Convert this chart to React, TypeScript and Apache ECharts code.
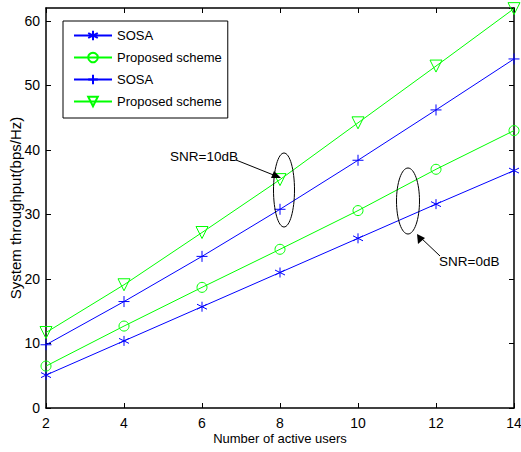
import React, { useEffect, useRef } from "react";
import * as echarts from "echarts";

const users = [2, 4, 6, 8, 10, 12, 14];
const sosa0dB = [5.1, 10.4, 15.7, 21.0, 26.3, 31.6, 36.8];
const proposed0dB = [6.5, 12.7, 18.7, 24.6, 30.6, 37.0, 43.0];
const sosa10dB = [9.8, 16.5, 23.5, 30.8, 38.4, 46.2, 54.1];
const proposed10dB = [11.7, 19.1, 27.2, 35.4, 44.2, 53.0, 61.9];
// trailing spaces keep the four legend entries distinct; trimmed in the formatter
const seriesNames = ["SOSA", "Proposed scheme", "SOSA ", "Proposed scheme "];

const BLUE = "#0000ff";
const GREEN = "#00ff00";
const FONT = "'Liberation Sans', Arial, sans-serif";

const STAR = "path://M0,-1L0,1M-0.87,-0.5L0.87,0.5M-0.87,0.5L0.87,-0.5M0,0";
const PLUS = "path://M-1,0L1,0M0,-1L0,1M0,0";
const TRI = "path://M-1,-0.9L1,-0.9L0,0.9Z";

export default function App() {
  const ref = useRef<HTMLDivElement>(null);
  useEffect(() => {
    const chart = echarts.init(ref.current!, null, { renderer: "svg" });
    const pair = (ys: number[]) => users.map((u, i) => [u, ys[i]]);
    const mk = (name: string, ys: number[], color: string, symbol: string, size: number, key: string) => ({
      id: key,
      name,
      type: "line",
      data: pair(ys),
      symbol,
      symbolSize: size,
      showAllSymbol: true,
      lineStyle: { color, width: 1 },
      itemStyle: { color: "rgba(0,0,0,0)", borderColor: color, borderWidth: 1 },
      emphasis: { disabled: true },
      z: 3,
    });
    chart.setOption({
      animation: false,
      backgroundColor: "#fff",
      grid: { left: 46, right: 7, top: 8, bottom: 44, outerBoundsMode: "none", containLabel: false },
      xAxis: [
        {
          type: "value",
          min: 2,
          max: 14,
          interval: 2,
          name: "Number of active users",
          nameLocation: "middle",
          nameGap: 24,
          nameMoveOverlap: false,
          nameTextStyle: { fontFamily: FONT, fontSize: 13, color: "#000" },
          axisLine: { lineStyle: { color: "#000", width: 1.5 } },
          axisTick: { inside: true, length: 5, lineStyle: { color: "#000" } },
          axisLabel: { fontFamily: FONT, fontSize: 14, color: "#000", margin: 8 },
          splitLine: { show: false },
        },
        {
          type: "value",
          position: "top",
          min: 2,
          max: 14,
          interval: 2,
          axisLine: { show: true, onZero: false, lineStyle: { color: "#000", width: 1.5 } },
          axisTick: { inside: true, length: 5, lineStyle: { color: "#000" } },
          axisLabel: { show: false },
          splitLine: { show: false },
        },
      ],
      yAxis: [
        {
          type: "value",
          min: 0,
          max: 62,
          interval: 10,
          name: "System throughput(bps/Hz)",
          nameLocation: "middle",
          nameGap: 23,
          nameMoveOverlap: false,
          nameTextStyle: { fontFamily: FONT, fontSize: 15, color: "#000" },
          axisLine: { show: true, lineStyle: { color: "#000", width: 1.5 } },
          axisTick: { show: true, inside: true, length: 5, lineStyle: { color: "#000" } },
          axisLabel: { fontFamily: FONT, fontSize: 14, color: "#000", margin: 6, showMaxLabel: false },
          splitLine: { show: false },
        },
        {
          type: "value",
          position: "right",
          min: 0,
          max: 62,
          interval: 10,
          axisLine: { show: true, onZero: false, lineStyle: { color: "#000", width: 1.5 } },
          axisTick: { show: true, inside: true, length: 5, lineStyle: { color: "#000" } },
          axisLabel: { show: false },
          splitLine: { show: false },
        },
      ],
      legend: {
        left: 63,
        top: 21,
        orient: "vertical",
        padding: [8, 6, 10, 10],
        itemGap: 9,
        itemWidth: 38,
        itemHeight: 12,
        borderColor: "#000",
        borderWidth: 1,
        backgroundColor: "#fff",
        textStyle: { fontFamily: FONT, fontSize: 13, color: "#000" },
        selectedMode: false,
        formatter: (n: string) => n.trim(),
        data: seriesNames.map((n) => ({ name: n })),
      },
      series: [
        mk(seriesNames[0], sosa0dB, BLUE, STAR, 10, "s0"),
        mk(seriesNames[1], proposed0dB, GREEN, "circle", 10, "p0"),
        mk(seriesNames[2], sosa10dB, BLUE, PLUS, 11, "s10"),
        mk(seriesNames[3], proposed10dB, GREEN, TRI, 12, "p10"),
      ],
      graphic: [
        { type: "ellipse", shape: { cx: 284, cy: 190, rx: 10.5, ry: 37 }, style: { fill: "none", stroke: "#000", lineWidth: 1 }, z: 10 },
        { type: "ellipse", shape: { cx: 408, cy: 201, rx: 11.5, ry: 33 }, style: { fill: "none", stroke: "#000", lineWidth: 1 }, z: 10 },
        { type: "line", shape: { x1: 236, y1: 160, x2: 276, y2: 176 }, style: { stroke: "#000", lineWidth: 1 }, z: 10 },
        { type: "polygon", shape: { points: [[281, 178], [271, 178], [274, 171]] }, style: { fill: "#000" }, z: 10 },
        { type: "line", shape: { x1: 440, y1: 256, x2: 420, y2: 237 }, style: { stroke: "#000", lineWidth: 1 }, z: 10 },
        { type: "polygon", shape: { points: [[417, 234], [418, 244], [425, 238]] }, style: { fill: "#000" }, z: 10 },
        { type: "text", x: 170, y: 156, style: { text: "SNR=10dB", font: "13.5px " + FONT, fill: "#000", textVerticalAlign: "middle" }, z: 10 },
        { type: "text", x: 439, y: 261, style: { text: "SNR=0dB", font: "13.5px " + FONT, fill: "#000", textVerticalAlign: "middle" }, z: 10 },
      ],
    });
    return () => chart.dispose();
  }, []);
  return <div ref={ref} style={{ width: 521, height: 452, position: "absolute", left: 0, top: 0 }} />;
}
